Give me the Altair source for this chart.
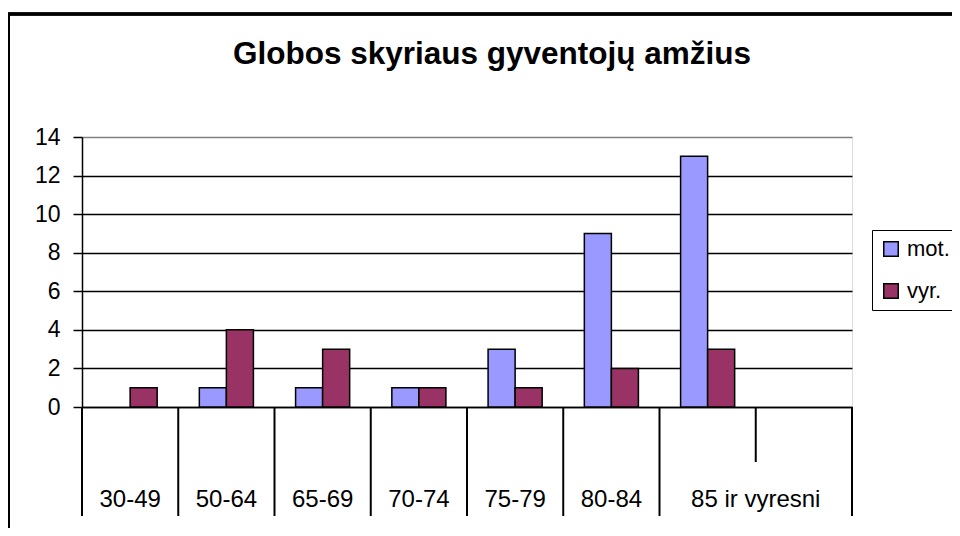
import altair as alt
import pandas as pd

# ---- data ----
categories = ["30-49", "50-64", "65-69", "70-74", "75-79", "80-84", "85 ir vyresni"]
mot_values = [0, 1, 1, 1, 3, 9, 13]
vyr_values = [1, 4, 3, 1, 1, 2, 3]
series_names = ["mot.", "vyr."]
series_colors = ["#9999FF", "#993366"]
y_ticks = [0, 2, 4, 6, 8, 10, 12, 14]
empty_slot = ""          # the empty 8th category slot on the category axis
chart_title = ["Globos skyriaus gyventojų amžius"]

FONT = "Liberation Sans"

x_domain = categories + [empty_slot]

bars_df = pd.DataFrame(
    {
        "cat": categories * 2,
        "series": [series_names[0]] * len(categories) + [series_names[1]] * len(categories),
        "value": mot_values + vyr_values,
    }
)
cats_df = pd.DataFrame({"cat": x_domain})
title_df = pd.DataFrame({"title": chart_title})

W, H = 770, 270

x_scale = alt.Scale(domain=x_domain, paddingInner=0, paddingOuter=0)
x_axis = alt.Axis(labels=False, ticks=False, domain=True, domainColor="black",
                  domainWidth=1.5, title=None, grid=False)

bars = alt.Chart(bars_df).transform_filter(
    alt.datum.value > 0
).mark_bar(stroke="black", strokeWidth=1.5).encode(
    x=alt.X("cat:N", scale=x_scale, axis=x_axis, sort=x_domain),
    xOffset=alt.XOffset("series:N", scale=alt.Scale(domain=series_names, paddingInner=0, paddingOuter=0.78)),
    y=alt.Y(
        "value:Q",
        scale=alt.Scale(domain=[0, 14], nice=False, zero=True),
        axis=alt.Axis(
            values=y_ticks,
            title=None,
            domainColor="black",
            domainWidth=1.5,
            tickColor="black",
            tickWidth=1.5,
            tickSize=9,
            labelPadding=13,
            labelFont=FONT,
            labelFontSize=23,
            labelColor="black",
            gridColor=alt.condition("datum.value === 14", alt.value("#808080"), alt.value("black")),
            gridWidth=1.5,
            grid=True,
        ),
    ),
    color=alt.Color(
        "series:N",
        scale=alt.Scale(domain=series_names, range=series_colors),
        legend=alt.Legend(
            title=None,
            orient="none",
            legendX=790,
            legendY=93,
            strokeColor="black",
            fillColor="white",
            padding=8,
            labelFont=FONT,
            labelFontSize=22,
            labelColor="black",
            labelOffset=5,
            symbolType="square",
            symbolSize=210,
            symbolStrokeColor="black",
            symbolStrokeWidth=1.5,
            symbolOpacity=1,
            rowPadding=20,
        ),
    ),
)

sep_main = alt.Chart(cats_df).transform_filter(
    alt.datum.cat != empty_slot
).mark_rule(color="black", strokeWidth=2).encode(
    x=alt.X("cat:N", scale=x_scale, axis=x_axis, bandPosition=0, sort=x_domain),
    y=alt.value(H),
    y2=alt.value(H + 109),
)

sep_short = alt.Chart(cats_df).transform_filter(
    alt.datum.cat == empty_slot
).mark_rule(color="black", strokeWidth=2).encode(
    x=alt.X("cat:N", scale=x_scale, axis=x_axis, bandPosition=0, sort=x_domain),
    y=alt.value(H),
    y2=alt.value(H + 55),
)

sep_end = alt.Chart(cats_df).transform_filter(
    alt.datum.cat == empty_slot
).mark_rule(color="black", strokeWidth=2).encode(
    x=alt.X("cat:N", scale=x_scale, axis=x_axis, bandPosition=1, sort=x_domain),
    y=alt.value(H),
    y2=alt.value(H + 109),
)

labels_main = alt.Chart(cats_df).transform_filter(
    (alt.datum.cat != empty_slot) & (alt.datum.cat != categories[-1])
).mark_text(font=FONT, fontSize=24, color="black", baseline="alphabetic", align="center").encode(
    x=alt.X("cat:N", scale=x_scale, axis=x_axis, sort=x_domain),
    y=alt.value(H + 100),
    text="cat:N",
)

label_last = alt.Chart(cats_df).transform_filter(
    alt.datum.cat == categories[-1]
).mark_text(font=FONT, fontSize=24, color="black", baseline="alphabetic", align="center").encode(
    x=alt.X("cat:N", scale=x_scale, axis=x_axis, bandPosition=1, sort=x_domain),
    y=alt.value(H + 100),
    text="cat:N",
)

title_mark = alt.Chart(title_df).mark_text(
    font=FONT, fontSize=31.5, fontWeight="bold", color="black",
    baseline="alphabetic", align="center",
).encode(
    x=alt.value(410),
    y=alt.value(-73),
    text="title:N",
)

border_top = alt.Chart(cats_df).mark_rule(color="black", strokeWidth=2.5).encode(
    x=alt.value(-74), x2=alt.value(W + 110), y=alt.value(-123)
)
border_left = alt.Chart(cats_df).mark_rule(color="black", strokeWidth=2).encode(
    x=alt.value(-73), y=alt.value(-124), y2=alt.value(H + 130)
)

chart = alt.layer(
    bars, sep_main, sep_short, sep_end, labels_main, label_last, title_mark, border_top, border_left
).properties(
    width=W,
    height=H,
    autosize="none",
    padding={"left": 74, "top": 129, "right": 100, "bottom": 121},
).configure_view(
    fill="#C0C0C0", stroke="#808080", strokeWidth=2
).configure(background="white")

chart.save("out.html", embed_options={"renderer": "svg", "actions": False})
